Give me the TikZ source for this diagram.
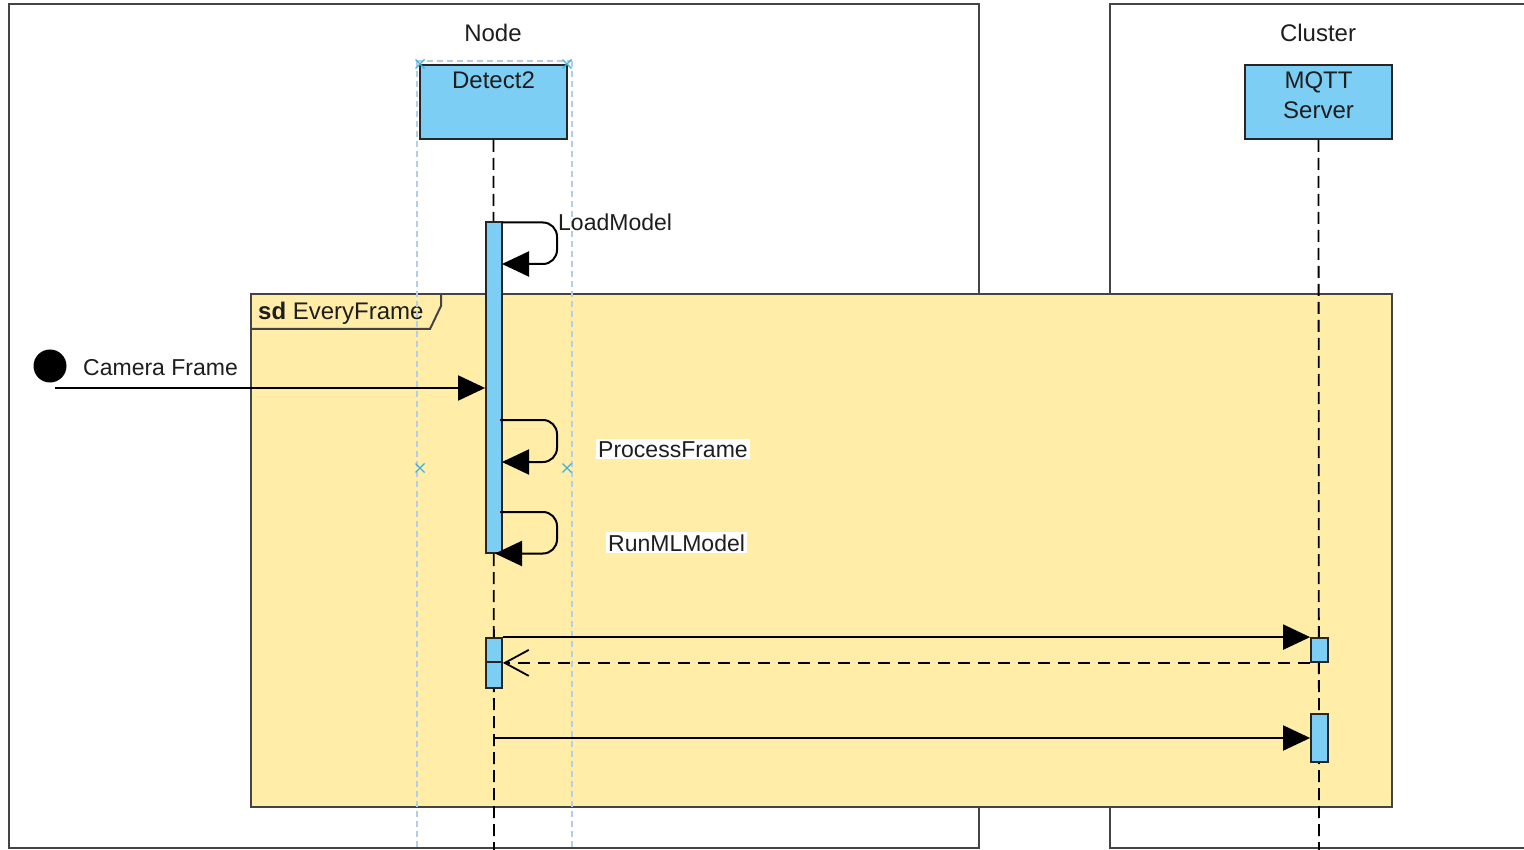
\documentclass[tikz,border=0pt]{standalone}
\usepackage{fontspec}
\setmainfont{Liberation Sans}
\usetikzlibrary{arrows.meta}
\definecolor{lblue}{HTML}{7DCEF4}
\definecolor{lyellow}{HTML}{FFEDA8}
\definecolor{frameg}{HTML}{444444}
\definecolor{selblue}{HTML}{B4CDE8}
\definecolor{markblue}{HTML}{3FB3DD}
\definecolor{txtc}{HTML}{1E1E1E}
\begin{document}
\begin{tikzpicture}[x=1pt,y=-1pt,
  font=\fontsize{24}{30}\selectfont,
  every node/.style={text=txtc},
  frame/.style={draw=frameg, line width=2.2pt},
  sdframe/.style={draw=frameg, line width=2.2pt, fill=lyellow},
  lifebox/.style={draw=black!85, line width=2pt, fill=lblue, minimum width=147pt, minimum height=74pt, inner sep=0pt, anchor=north},
  actbar/.style={draw=black!85, line width=1.8pt, fill=lblue, inner sep=0pt, minimum width=16pt},
  lifeline/.style={draw=black, line width=1.8pt, dash pattern=on 12pt off 6pt},
  guide/.style={draw=selblue, line width=1.3pt, dash pattern=on 6pt off 4pt},
  selmark/.style={draw=markblue, line width=1.4pt},
  msg/.style={draw=black, line width=2pt, -{Triangle[length=27pt,width=25pt]}},
  selfmsg/.style={msg, rounded corners=14pt},
  reply/.style={draw=black, line width=2pt, dash pattern=on 12pt off 8pt, -{Straight Barb[length=24pt,width=26pt,line width=1.8pt]}},
  lbl/.style={inner sep=0pt, anchor=base west},
  mlbl/.style={inner sep=0pt, anchor=base west, font=\fontsize{23}{28}\selectfont},
  wlbl/.style={fill=white, inner sep=2pt, anchor=base west, font=\fontsize{23}{28}\selectfont}
]
\useasboundingbox (0,0) rectangle (1524,850);
\fill[white] (0,0) rectangle (1524,850);

% outer frames
\draw[frame] (9,4) rectangle (979,848);
\draw[frame] (1540,4) -- (1110,4) -- (1110,848) -- (1540,848);
\node[lbl, anchor=base] (nodet) at (493,42) {Node};
\node[lbl, anchor=base] (clustert) at (1318,42) {Cluster};

% sd frame
\draw[sdframe] (251,294) rectangle (1392,807);
\draw[draw=frameg, line width=2pt] (251,329) -- (430,329) -- (441,306) -- (441,294);
\node[lbl] (sdt) at (258,320) {\textbf{sd} EveryFrame};

% lifeline heads
\node[lifebox] (d2) at (493.5,64) {};
\node[lbl, anchor=base] (d2t) at (493.5,89) {Detect2};
\node[lifebox] (mq) at (1318.5,64) {};
\node[lbl, anchor=base] (mqt) at (1318.5,89) {MQTT};
\node[lbl, anchor=base] (mqt2) at (1318.5,119) {Server};

% selection guides
\coordinate (gtl) at (417,61);
\coordinate (gtr) at (572,61);
\coordinate (gbl) at (417,850);
\coordinate (gbr) at (572,850);
\draw[guide] (gtl) -- (gtr);
\draw[guide] (gtl) -- (gbl);
\draw[guide] (gtr) -- (gbr);

% lifelines
\coordinate (d2end) at (494,850);
\coordinate (mqend) at (1319,850);
\draw[lifeline] (d2.south) -- (d2end);
\draw[lifeline] (mq.south) -- (mqend);

% selection markers
\foreach \mx/\my in {420/64, 567/64, 420/468, 567/468}{
  \draw[selmark] (\mx-4.5,\my-4.5) -- (\mx+4.5,\my+4.5) (\mx-4.5,\my+4.5) -- (\mx+4.5,\my-4.5);
}

% activation bars
\node[actbar, minimum height=331pt] (a1) at (494,387.5) {};
\node[actbar, minimum height=24pt] (a2) at (494,650) {};
\node[actbar, minimum height=26pt] (a3) at (494,675) {};
\node[actbar, minimum width=17pt, minimum height=24pt] (m1) at (1319.5,650) {};
\node[actbar, minimum width=17pt, minimum height=48pt] (m2) at (1319.5,738) {};

% initial circle + camera frame
\node[circle, fill=black, inner sep=0pt, minimum size=33pt] (init) at (50,366) {};
\node[mlbl] (camt) at (83,375) {Camera Frame};
\coordinate (cf) at (55,388);
\draw[msg] (cf) -- (cf -| a1.west);

% self messages
\coordinate (lm1) at (502,222.5);
\coordinate (lm2) at (557,222.5);
\coordinate (lm3) at (557,264);
\coordinate (lm4) at (502,264);
\draw[selfmsg] (lm1) -- (lm2) -- (lm3) -- (lm4);
\node[mlbl] (lmt) at (558,231) {LoadModel};

\coordinate (pf1) at (500,420);
\coordinate (pf2) at (557,420);
\coordinate (pf3) at (557,462);
\coordinate (pf4) at (502,462);
\draw[selfmsg] (pf1) -- (pf2) -- (pf3) -- (pf4);
\node[wlbl] (pft) at (596,457) {ProcessFrame};

\coordinate (rm1) at (500,512);
\coordinate (rm2) at (557,512);
\coordinate (rm3) at (557,553.5);
\coordinate (rm4) at (495,553.5);
\draw[selfmsg] (rm1) -- (rm2) -- (rm3) -- (rm4);
\node[wlbl] (rmt) at (606,551) {RunMLModel};

% messages to MQTT
\draw[msg] (a2.north east) -- (m1.north west);
\draw[reply] (m1.south west) -- (a2.south east);
\coordinate (s3) at (494,738);
\draw[msg] (s3) -- (m2.west);
\end{tikzpicture}
\end{document}
